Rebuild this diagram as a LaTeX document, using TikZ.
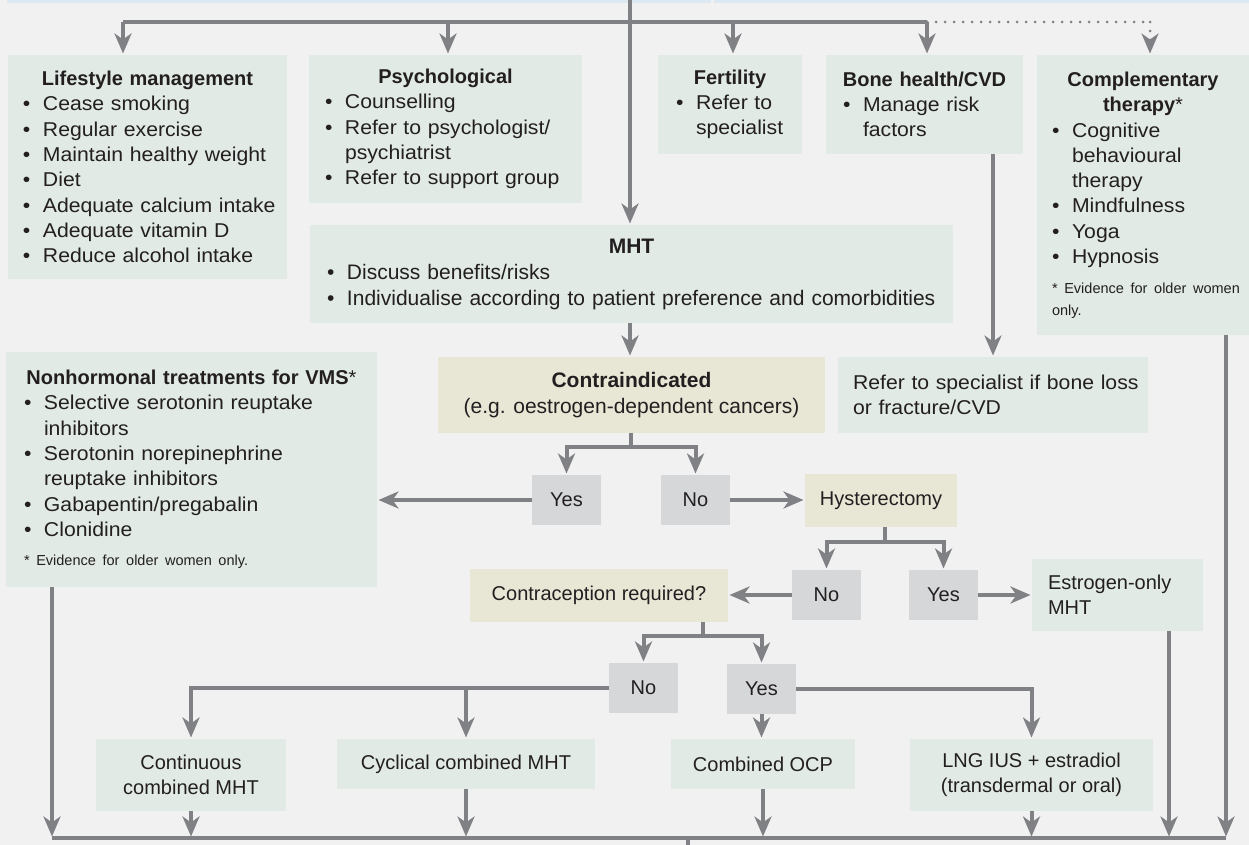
\documentclass[tikz,border=0pt]{standalone}
\usepackage{fontspec}
\setmainfont{Liberation Sans}
\newfontfamily\widefont[FakeStretch=1.06]{Liberation Sans}
\usetikzlibrary{arrows.meta,calc}

\definecolor{bgcol}{HTML}{F1F1F1}
\definecolor{bandcol}{HTML}{DCE9F3}
\definecolor{greenbox}{HTML}{E1EAE5}
\definecolor{beigebox}{HTML}{E8E7D6}
\definecolor{greybox}{HTML}{D6D7D9}
\definecolor{linecol}{HTML}{808185}
\definecolor{txt}{HTML}{231F20}

% lines inside the panels
\newcommand{\boxtitle}[1]{\noindent\makebox[\hsize][c]{\normalfont\bfseries #1}\par}
\newcommand{\bitem}[1]{\noindent\makebox[20pt][l]{\textbullet}\mbox{#1}\par}
\newcommand{\bmore}[1]{\noindent\hspace*{20pt}\mbox{#1}\par}
\newcommand{\fnote}[1]{\vspace{7.5pt}\noindent{\normalfont\fontsize{14.5}{22}\selectfont #1\par}}

\begin{document}
\begin{tikzpicture}[
		x=1pt, y=-1pt,
		boxbase/.style={anchor=north west, inner ysep=0pt, outer sep=0pt, text=txt,
			font=\fontsize{20}{25.3}\selectfont},
		panel/.style={boxbase, fill=greenbox},
		note/.style={boxbase, fill=beigebox},
		answer/.style={boxbase, fill=greybox, inner xsep=0pt, minimum width=69pt, minimum height=50pt},
		wide/.style={font=\widefont\fontsize{20}{25.3}\selectfont},
		big/.style={font=\fontsize{21}{26}\selectfont},
		link/.style={draw=linecol, line width=4pt},
		arr/.style={link, shorten >=1.5pt, -{Stealth[length=20pt, width=17pt, inset=6pt]}},
		dots/.style={draw=linecol, line width=3pt, line cap=round, dash pattern=on 0pt off 9pt}
	]
	\useasboundingbox (0,0) rectangle (1249,845);
	\fill[bgcol] (0,0) rectangle (1249,845);
	\fill[bandcol] (7,0) rectangle (711,3);
	\fill[bandcol] (714,0) rectangle (1249,3);

	% first row
	\node[panel, wide, minimum width=279pt, minimum height=224pt, text width=249pt, inner xsep=15pt] (life) at (8,55) {
		\boxtitle{Lifestyle management}
		\bitem{Cease smoking}
		\bitem{Regular exercise}
		\bitem{Maintain healthy weight}
		\bitem{Diet}
		\bitem{Adequate calcium intake}
		\bitem{Adequate vitamin D}
		\bitem{Reduce alcohol intake}};
	\node[panel, wide, minimum width=273pt, minimum height=148pt, text width=241pt, inner xsep=16pt] (psy) at (309,55) {
		\boxtitle{Psychological}
		\bitem{Counselling}
		\bitem{Refer to psychologist/}
		\bmore{psychiatrist}
		\bitem{Refer to support group}};
	\node[panel, wide, minimum width=144pt, minimum height=99pt, text width=108pt, inner xsep=18pt] (fert) at (658,55) {
		\boxtitle{Fertility}
		\bitem{Refer to}
		\bmore{specialist}};
	\node[panel, wide, minimum width=197pt, minimum height=99pt, text width=163pt, inner xsep=17pt] (bone) at (826,55) {
		\boxtitle{Bone health/CVD}
		\bitem{Manage risk}
		\bmore{factors}};
	\node[panel, wide, minimum width=212pt, minimum height=280pt, text width=182pt, inner xsep=15pt] (comp) at (1037,55) {
		\boxtitle{Complementary}
		\boxtitle{therapy{\mdseries*}}
		\bitem{Cognitive}
		\bmore{behavioural}
		\bmore{therapy}
		\bitem{Mindfulness}
		\bitem{Yoga}
		\bitem{Hypnosis}
		\fnote{\mbox{* Evidence for older women}\\only.}};

	% MHT and what follows
	\node[panel, big, minimum width=643pt, minimum height=98pt, text width=609pt, inner xsep=17pt] (mht) at (310,225) {
		\boxtitle{MHT}
		\bitem{Discuss benefits/risks}
		\bitem{Individualise according to patient preference and comorbidities}};
	\node[panel, wide, minimum width=371pt, minimum height=235pt, text width=335pt, inner xsep=18pt] (nonh) at (6,352) {
		\boxtitle{Nonhormonal treatments for VMS{\mdseries*}}
		\bitem{Selective serotonin reuptake}
		\bmore{inhibitors}
		\bitem{Serotonin norepinephrine}
		\bmore{reuptake inhibitors}
		\bitem{Gabapentin/pregabalin}
		\bitem{Clonidine}
		\fnote{* Evidence for older women only.}};
	\node[note, big, minimum width=387pt, minimum height=76pt, align=center] (contra) at (438,357)
		{\textbf{Contraindicated}\\(e.g. oestrogen-dependent cancers)};
	\node[panel, wide, minimum width=310pt, minimum height=76pt, text width=280pt, inner xsep=15pt, align=left] (refer) at (838,357)
		{\mbox{Refer to specialist if bone loss}\\or fracture/CVD};

	\node[answer] (yesA) at (532,475) {Yes};
	\node[answer] (noA) at (661,475) {No};
	\node[note, minimum width=152pt, minimum height=53pt] (hyst) at (805,474) {Hysterectomy};
	\node[answer] (noB) at (792,570) {No};
	\node[answer] (yesB) at (909,570) {Yes};
	\node[note, minimum width=258pt, minimum height=53pt] (creq) at (470,569) {Contraception required?};
	\node[panel, minimum width=171pt, minimum height=72pt, text width=139pt, inner xsep=16pt, align=left] (estr) at (1032,559)
		{Estrogen-only\\MHT};
	\node[answer] (noC) at (609,663) {No};
	\node[answer] (yesC) at (727,664) {Yes};

	% last row
	\node[panel, minimum width=190pt, minimum height=72pt, align=center] (cont) at (96,739) {Continuous\\combined MHT};
	\node[panel, minimum width=258pt, minimum height=50pt] (cycl) at (337,739) {Cyclical combined MHT};
	\node[panel, minimum width=184pt, minimum height=50pt] (ocp) at (671,739) {Combined OCP};
	\node[panel, minimum width=243pt, minimum height=72pt, align=center] (lng) at (910,739)
		{LNG IUS + estradiol\\(transdermal or oral)};

	% junctions
	\coordinate (top) at (630,0);
	\coordinate (hl) at (123,22);
	\coordinate (hp) at (448,22);
	\coordinate (hf) at (733,22);
	\coordinate (hr) at (927,22);
	\coordinate (hc) at (1150,22);
	\coordinate (bx) at (993,0);
	\coordinate (ex) at (1169,0);
	\coordinate (bl) at (52,838);
	\coordinate (br) at (1226,838);
	\coordinate (out) at (688,845);
	\coordinate (cj) at ($(yesA.north)!.5!(noA.north)+(0,-28)$);
	\coordinate (hj) at ($(noB.north)!.5!(yesB.north)+(0,-28)$);
	\coordinate (qj) at ($(noC.north)!.5!(yesC.north)+(0,-28)$);

	% connectors from the top
	\draw[arr] (top) -- (top |- mht.north);
	\draw[link] (hl) -- (hr);
	\draw[arr] (hl) -- (hl |- life.north);
	\draw[arr] (hp) -- (hp |- psy.north);
	\draw[arr] (hf) -- (hf |- fert.north);
	\draw[arr] (hr) -- (hr |- bone.north);
	\draw[dots] (hr) -- (hc);
	\draw[dots, -{Stealth[length=20pt, width=17pt, inset=6pt]}, shorten >=1.5pt] (hc) -- (hc |- comp.north);
	\draw[arr] (top |- mht.south) -- (top |- contra.north);
	\draw[arr] (bx |- bone.south) -- (bx |- refer.north);

	% decisions
	\draw[link] (cj |- contra.south) -- (cj);
	\draw[arr] (cj) -| (yesA.north);
	\draw[arr] (cj) -| (noA.north);
	\draw[arr] (yesA.west) -- (yesA.west -| nonh.east);
	\draw[arr] (noA.east) -- (noA.east -| hyst.west);
	\draw[link] (hj |- hyst.south) -- (hj);
	\draw[arr] (hj) -| (noB.north);
	\draw[arr] (hj) -| (yesB.north);
	\draw[arr] (noB.west) -- (noB.west -| creq.east);
	\draw[arr] (yesB.east) -- (yesB.east -| estr.west);
	\draw[link] (qj |- creq.south) -- (qj);
	\draw[arr] (qj) -| (noC.north);
	\draw[arr] (qj) -| (yesC.north);
	\draw[arr] (noC.west) -| (cont.north);
	\draw[arr] (noC.west -| cycl.north) -- (cycl.north);
	\draw[arr] (yesC.south) -- (yesC.south |- ocp.north);
	\draw[arr] (yesC.east) -| (lng.north);

	% bottom bus
	\draw[link] (bl) -- (br);
	\draw[link] (out |- bl) -- (out);
	\draw[arr] (bl |- nonh.south) -- (bl);
	\draw[arr] (cont.south) -- (cont.south |- bl);
	\draw[arr] (cycl.south) -- (cycl.south |- bl);
	\draw[arr] (ocp.south) -- (ocp.south |- bl);
	\draw[arr] (lng.south) -- (lng.south |- bl);
	\draw[arr] (ex |- estr.south) -- (ex |- bl);
	\draw[arr] (br |- comp.south) -- (br);
\end{tikzpicture}
\end{document}
